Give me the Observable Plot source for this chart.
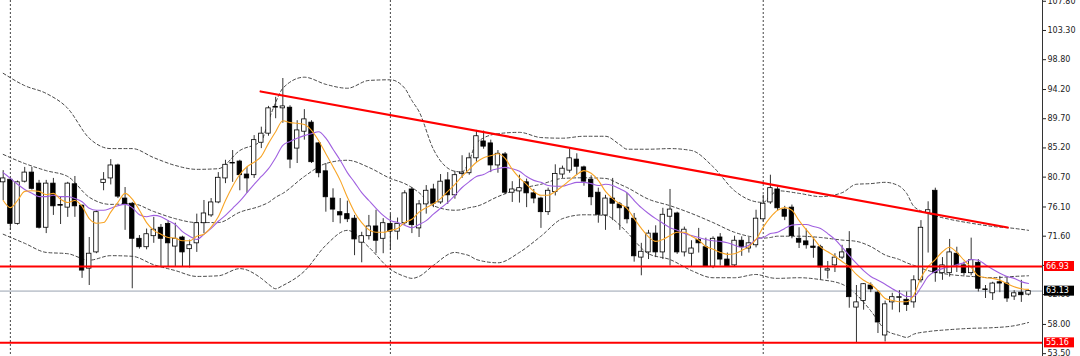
<!DOCTYPE html>
<html><head><meta charset="utf-8">
<script src="https://cdn.jsdelivr.net/npm/d3@7"></script>
<script src="https://cdn.jsdelivr.net/npm/@observablehq/plot@0.6"></script>
<style>
html,body{margin:0;padding:0;background:#fff;}
#chart{width:1080px;height:356px;overflow:hidden;}
</style></head><body><div id="chart"></div>
<script>
// Weekly candles (oldest -> newest)
const openP = [79.9,80.3,73.5,80.0,81.4,79.7,72.9,79.7,76.4,76.0,
79.6,76.3,66.6,69.1,79.8,80.5,82.5,77.4,76.6,71.2,
69.9,71.6,72.9,73.5,70.0,71.4,69.6,70.5,73.6,74.8,
76.8,80.5,82.8,83.1,81.1,81.0,86.0,87.4,91.4,91.3,
91.4,85.1,87.7,89.1,85.9,81.6,77.4,75.3,75.0,74.3,
70.6,71.6,73.1,71.2,73.5,72.3,73.6,78.8,72.8,76.5,
78.8,76.8,80.2,77.9,81.2,81.3,83.6,86.2,85.9,82.5,
84.2,78.3,78.5,79.9,78.2,77.4,75.3,78.4,81.1,81.7,
83.4,82.2,80.3,78.3,74.8,77.4,76.5,76.0,74.3,68.3,
69.1,72.0,69.1,74.6,75.1,69.1,68.9,71.0,69.9,66.9,
71.4,68.0,67.1,70.9,69.7,70.2,74.2,76.8,78.8,75.7,
76.0,71.2,70.8,70.0,69.9,66.3,67.1,68.3,69.6,60.6,
61.6,64.0,62.9,56.3,61.4,62.1,61.8,61.4,64.8,75.2,
78.6,65.9,65.9,68.9,67.1,65.9,67.5,63.4,62.8,64.5,
64.3,62.3,62.9,62.6];
const highP = [81.7,80.5,80.1,82.2,82.2,80.2,80.2,80.5,77.6,79.9,
80.8,76.4,71.4,75.5,81.4,83.4,82.7,79.1,76.8,71.7,
72.7,74.5,73.4,74.0,73.6,71.6,71.0,75.0,77.1,77.4,
81.4,83.3,84.8,83.3,82.2,87.1,88.4,91.6,93.0,95.9,
91.7,89.4,91.1,89.4,86.0,82.8,78.9,77.4,77.0,74.8,
72.2,74.8,75.6,74.3,75.0,74.4,78.6,79.1,77.1,79.4,
79.6,81.1,81.4,81.6,84.0,84.4,87.9,87.8,86.4,84.8,
84.5,80.0,81.0,80.4,78.8,77.6,79.0,82.6,82.4,85.0,
84.3,82.4,80.9,79.0,77.9,80.5,76.8,78.2,75.1,70.5,
72.5,73.2,75.9,78.8,75.3,73.0,70.9,72.8,71.3,71.5,
72.0,69.0,71.6,71.5,71.4,75.6,77.9,81.0,79.2,76.2,
76.4,72.9,72.7,71.4,70.2,67.7,68.9,70.2,72.3,64.0,
64.3,64.4,63.2,61.6,62.8,63.2,63.0,65.5,74.0,76.9,
79.0,68.3,71.1,69.9,67.6,71.3,68.0,64.0,64.5,65.4,
65.2,63.2,64.8,63.3];
const lowP = [77.1,72.5,73.3,79.8,78.7,72.7,72.0,74.8,73.4,74.5,
74.5,65.1,64.0,68.9,78.6,79.5,77.4,72.5,63.5,69.6,
69.5,70.5,66.8,66.8,66.8,66.8,66.7,69.1,72.0,74.5,
76.6,79.7,79.9,78.6,78.2,80.5,85.1,87.0,89.7,89.0,
82.0,82.8,86.4,82.8,80.6,75.3,73.7,73.5,73.7,68.6,
67.5,71.0,68.9,68.9,69.4,71.0,73.3,72.0,71.4,75.0,
76.0,76.5,76.5,77.3,80.5,81.0,83.0,85.0,81.4,81.3,
78.0,76.8,76.7,76.0,76.6,72.8,74.8,77.8,80.5,81.3,
81.0,79.3,76.3,73.6,72.5,74.0,72.5,73.5,67.6,65.5,
68.0,68.3,68.0,67.0,68.8,68.4,66.9,69.0,66.9,66.6,
67.0,66.9,66.9,68.5,69.0,69.8,73.8,76.5,75.5,74.0,
71.2,69.7,69.6,68.2,64.8,65.0,66.0,68.0,60.5,55.1,
60.2,62.9,56.6,55.3,60.2,59.8,60.0,60.5,64.4,69.0,
64.5,64.8,65.3,66.0,65.5,65.5,63.0,62.0,61.7,62.9,
61.4,61.7,61.4,62.4];
const closeP = [80.5,73.5,79.9,81.4,78.9,72.9,79.7,76.2,76.3,79.7,
76.2,66.3,68.9,75.3,80.3,82.5,77.7,76.5,71.2,69.9,
71.9,72.6,71.2,70.5,71.2,69.1,70.2,73.6,75.1,76.8,
80.6,82.6,82.9,81.0,80.5,86.4,87.4,91.3,91.5,91.6,
83.4,87.9,89.6,83.0,81.3,77.6,75.7,74.8,74.2,71.1,
71.6,73.1,70.9,73.6,72.3,73.5,78.2,73.3,76.5,78.6,
76.6,80.0,77.9,81.0,81.4,83.6,87.0,85.4,82.5,84.3,
78.3,78.8,79.0,78.2,77.4,75.3,78.6,81.2,82.0,83.6,
82.3,80.0,77.6,74.9,77.4,76.6,75.9,74.2,68.5,69.2,
72.0,69.1,74.9,75.7,69.1,72.6,69.7,70.5,66.9,71.2,
68.0,66.9,70.9,69.9,70.5,74.3,76.6,79.0,75.9,74.6,
71.6,70.6,70.2,69.8,66.8,66.5,68.3,69.1,62.2,61.4,
64.2,63.4,58.3,61.1,62.2,62.2,61.0,64.8,72.9,75.6,
65.9,67.1,69.1,67.1,65.9,67.9,63.5,63.3,64.3,64.3,
62.0,62.8,62.5,63.13];

// Fast moving average (orange), read per candle
const maFast = [77.1,76.0,77.1,78.5,78.6,78.5,78.0,78.2,77.3,76.8,
77.1,76.2,74.3,73.6,73.7,75.3,76.8,78.2,77.3,75.6,
73.7,72.5,71.9,71.4,71.3,70.9,70.9,71.6,71.9,73.0,
74.6,77.1,79.3,81.1,82.3,83.0,83.9,85.9,87.7,89.4,
89.1,89.0,88.8,87.9,86.3,84.3,82.3,80.2,77.6,75.3,
73.7,72.6,72.2,72.2,72.5,72.8,73.7,74.2,75.3,76.0,
76.6,77.4,78.5,79.6,80.8,81.9,83.0,83.7,84.0,84.3,
83.6,81.9,80.6,79.6,78.5,77.9,77.9,78.5,79.3,80.2,
81.1,81.7,81.3,80.2,78.5,77.4,76.6,75.9,74.3,72.8,
71.5,70.8,71.1,71.7,72.2,72.2,71.6,71.0,70.0,69.6,
69.1,68.8,68.9,69.4,70.0,71.1,73.0,74.5,75.6,76.0,
75.6,74.0,72.6,71.3,69.9,69.2,68.5,67.7,66.9,65.7,
64.8,64.2,63.2,62.0,61.7,61.5,61.5,62.5,65.2,66.9,
68.0,69.2,69.9,69.1,67.9,66.8,65.5,65.2,65.1,64.8,
64.3,63.8,63.5,63.4];
// Slow moving average (purple), read per candle
const maSlow = [81.4,80.5,79.6,78.8,78.2,77.7,77.7,77.9,77.7,77.7,
77.4,76.9,75.9,75.6,75.6,75.9,76.3,76.5,76.0,74.9,
74.6,74.8,74.6,74.0,73.4,72.3,71.6,71.1,71.9,72.8,
73.9,74.8,75.9,77.0,78.3,79.6,80.8,82.0,83.7,85.6,
86.2,86.7,87.1,87.4,87.7,86.7,85.0,83.3,81.4,79.9,
78.3,77.1,75.9,74.8,74.0,73.7,73.3,72.9,73.4,74.0,
75.0,75.9,76.8,77.9,79.1,80.0,80.8,81.1,81.7,82.0,
82.2,82.0,81.6,80.8,80.2,79.9,79.4,79.3,79.3,79.6,
79.9,79.9,79.7,79.4,79.6,79.4,78.9,78.3,77.1,76.0,
75.1,74.3,73.6,72.9,72.5,72.0,71.7,71.4,71.1,70.9,
70.8,70.6,70.2,69.9,70.2,71.1,71.4,72.0,72.2,72.8,
73.3,73.4,73.4,73.1,72.8,72.0,71.1,69.9,68.6,67.4,
66.3,65.4,64.8,64.2,63.5,62.9,62.3,62.3,63.7,65.4,
66.2,66.6,66.9,67.2,67.5,68.0,67.9,67.2,66.5,65.9,
65.4,65.1,64.6,64.3];

// Bollinger bands, read at these candle indices
const bbIndex  = [0,3,6,9,12,15,18,21,24,27,30,33,36,37,38,39,42,45,48,51,54,56,57,58,60,63,64,65,66,69,72,75,78,81,84,86,87,90,93,96,99,102,105,106,107,108,111,114,117,119,121,123,125,126,127,129,132,135,138,141,143];
const bbUpper  = [96.7,94.8,93.6,91.3,86.7,85.1,85.1,83.7,82.5,81.9,82.0,84.8,86.3,89.4,92.2,94.4,96.1,95.0,94.4,95.6,95.7,94.4,92.5,90.8,85.0,81.6,81.5,83.2,86.0,87.4,87.6,86.8,86.7,87.0,87.0,85.7,85.0,85.0,85.1,84.8,82.3,78.6,76.9,76.8,77.8,78.6,78.2,77.7,78.3,79.6,79.7,79.9,79.3,78.2,76.2,75.1,74.2,73.6,73.1,72.8,72.5];
const bbMiddle = [84.2,82.8,81.7,80.8,77.6,76.5,76.6,75.4,74.3,73.7,73.7,75.3,76.3,76.8,77.6,78.2,80.8,82.8,83.3,82.2,80.5,79.7,79.1,78.3,76.3,75.6,75.7,76.0,76.2,77.7,78.9,79.6,80.5,80.6,80.5,79.6,79.1,77.3,76.3,75.1,73.7,72.2,71.4,71.3,71.4,71.6,71.6,71.4,71.0,70.8,70.0,68.7,68.0,67.5,67.1,66.3,65.7,65.4,65.2,65.4,65.5];
const bbLower  = [71.9,70.5,69.1,68.9,67.9,68.6,68.5,67.2,66.3,65.4,65.5,66.6,65.1,64.2,63.5,64.0,66.2,70.2,72.5,69.9,66.5,65.4,65.1,65.4,67.1,69.1,68.9,68.6,68.0,67.5,69.1,71.6,74.3,74.9,74.8,73.3,72.2,68.9,68.0,66.3,65.2,65.2,65.7,65.5,65.2,65.1,65.2,64.9,64.2,62.6,60.1,57.2,56.3,56.0,56.5,56.9,57.2,57.4,57.5,57.8,58.3];

// Horizontal levels, trend line, period separators, price scale ticks
const levels = [66.93, 55.16];
const lastPrice = 63.13;
const trendIndex = [35.9, 140.1];
const trendPrice = [93.9, 72.94];
const separators = [1, 54, 106];
const yTicks = [107.80, 103.30, 98.80, 94.20, 89.70, 85.20, 80.70, 76.10, 71.60, 67.10, 62.60, 58.00, 53.50];

const candles = openP.map((o, i) => ({i, o, h: highP[i], l: lowP[i], c: closeP[i]}));
const xDomain = [-0.377, 144.95];
const font = "DejaVu Sans, Verdana, sans-serif";

const bbStyle = {stroke: "#333", strokeWidth: 0.9, strokeDasharray: "3,2.5", curve: "monotone-x"};

const plot = Plot.plot({
  width: 1080, height: 356,
  marginLeft: 0, marginRight: 38, marginTop: 0, marginBottom: 0,
  x: {domain: xDomain, axis: null},
  y: {domain: [53.06, 107.92]},
  style: {background: "#fff", fontFamily: font},
  marks: [
    Plot.ruleX(separators, {stroke: "#444", strokeWidth: 1, strokeDasharray: "2,2"}),
    Plot.line(bbIndex, {x: d => d, y: (d, k) => bbUpper[k], ...bbStyle}),
    Plot.line(bbIndex, {x: d => d, y: (d, k) => bbMiddle[k], ...bbStyle}),
    Plot.line(bbIndex, {x: d => d, y: (d, k) => bbLower[k], ...bbStyle}),
    Plot.ruleY([lastPrice], {stroke: "#c4cad2", strokeWidth: 1.6}),
    Plot.ruleX(candles, {x: "i", y1: "l", y2: "h", stroke: "#333", strokeWidth: 1}),
    Plot.rect(candles, {x1: d => d.i - 0.31, x2: d => d.i + 0.31, y1: "o", y2: "c",
      fill: d => d.c >= d.o ? "#fff" : "#000", stroke: "#000", strokeWidth: 0.8}),
    Plot.line(maSlow, {x: (d, i) => i, y: d => d, stroke: "#a060e0", strokeWidth: 1.1, curve: "monotone-x"}),
    Plot.line(maFast, {x: (d, i) => i, y: d => d, stroke: "#f8a526", strokeWidth: 1.1, curve: "monotone-x"}),
    Plot.ruleY(levels, {stroke: "#ff0000", strokeWidth: 2}),
    Plot.line(trendIndex, {x: d => d, y: (d, k) => trendPrice[k], stroke: "#ff0000", strokeWidth: 2.2}),
    Plot.ruleX([xDomain[1]], {stroke: "#333", strokeWidth: 1}),
    Plot.axisY(yTicks, {anchor: "right", tickFormat: d => d.toFixed(2), tickSize: 3, tickPadding: 2,
      fontSize: 8, color: "#222", label: null})
  ]
});

document.getElementById("chart").appendChild(plot);

// price tags on the scale
const yScale = plot.scale("y");
const xScale = plot.scale("x");
const axisX = xScale.apply(xDomain[1]);
const svg = d3.select(plot.tagName.toLowerCase() === "svg" ? plot : plot.querySelector("svg"));
const tags = [{v: levels[0], bg: "#ff0000"}, {v: lastPrice, bg: "#000"}, {v: levels[1], bg: "#ff0000"}];
const g = svg.append("g").attr("text-anchor", "start");
tags.forEach(t => {
  const yy = yScale.apply(t.v);
  g.append("rect").attr("x", axisX + 2).attr("y", yy - 5).attr("width", 30).attr("height", 10).attr("fill", t.bg);
  g.append("text").attr("x", axisX + 4).attr("y", yy).attr("dy", "0.35em").attr("text-anchor", "start")
    .attr("fill", "#fff").attr("font-size", 8).attr("font-family", font).text(t.v.toFixed(2));
});
</script>
</body></html>
